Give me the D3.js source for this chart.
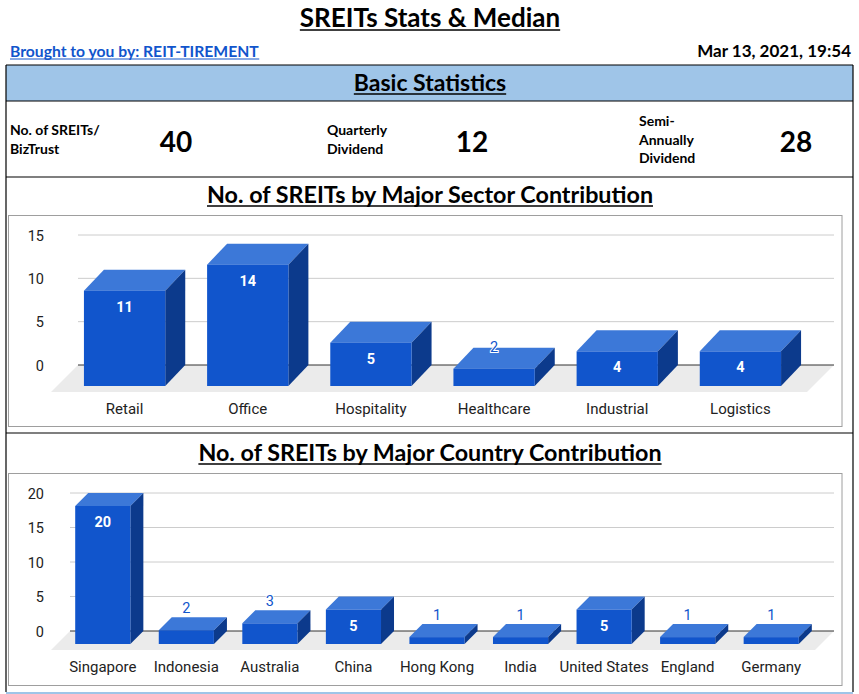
<!DOCTYPE html>
<html lang="en">
<head>
<meta charset="UTF-8">
<title>SREITs Stats & Median</title>
<script src="https://d3js.org/d3.v7.min.js"></script>
<style>
  body { margin: 0; background: #fff; overflow: hidden; }
  svg { display: block; }
</style>
</head>
<body>
<script>
// ---- data ----
const sectors = ["Retail", "Office", "Hospitality", "Healthcare", "Industrial", "Logistics"];
const sectorCounts = [11, 14, 5, 2, 4, 4];
const sectorTicks = [0, 5, 10, 15];

const countries = ["Singapore", "Indonesia", "Australia", "China", "Hong Kong", "India", "United States", "England", "Germany"];
const countryCounts = [20, 2, 3, 5, 1, 1, 5, 1, 1];
const countryTicks = [0, 5, 10, 15, 20];

const statLabels = [["No. of SREITs/", "BizTrust"], ["Quarterly", "Dividend"], ["Semi-", "Annually", "Dividend"]];
const statValues = [40, 12, 28];

const W = 859, H = 694;
const HEAD = "Lato, 'Open Sans', sans-serif";
const CHART = "Roboto, sans-serif";
const blue = "#1155cc", blueTop = "#3c78d8", blueSide = "#0c3a8c";

const svg = d3.select("body").append("svg").attr("width", W).attr("height", H);

// underlined text helper
function uText(x, y, str, size, anchor, color, ulGap) {
  const t = svg.append("text")
    .attr("x", x).attr("y", y)
    .attr("text-anchor", anchor)
    .attr("font-family", HEAD).attr("font-weight", "bold")
    .attr("font-size", size).attr("fill", color)
    .text(str);
  if (ulGap != null) {
    const b = t.node().getBBox();
    svg.append("line")
      .attr("x1", b.x).attr("x2", b.x + b.width)
      .attr("y1", y + ulGap).attr("y2", y + ulGap)
      .attr("stroke", color).attr("stroke-width", Math.max(1.2, size / 16));
  }
  return t;
}

// ---- page header ----
uText(430, 27, "SREITs Stats & Median", 26, "middle", "#000", 3);
uText(10, 57, "Brought to you by: REIT-TIREMENT", 15.7, "start", blue, 2);
uText(851, 57, "Mar 13, 2021, 19:54", 17, "end", "#000", null);

// ---- boxes ----
svg.append("rect").attr("x", 6).attr("y", 65).attr("width", 847).attr("height", 36).attr("fill", "#9fc5e8");
svg.append("rect").attr("x", 6).attr("y", 692).attr("width", 847).attr("height", 2).attr("fill", "#9fc5e8");
[65, 101, 177, 433].forEach(y => {
  svg.append("line").attr("x1", 6).attr("x2", 853).attr("y1", y).attr("y2", y)
    .attr("stroke", "#000").attr("stroke-width", 1.2);
});
[6, 853].forEach(x => {
  svg.append("line").attr("x1", x).attr("x2", x).attr("y1", 65).attr("y2", 692)
    .attr("stroke", "#000").attr("stroke-width", 1.2);
});

uText(430, 91, "Basic Statistics", 23, "middle", "#000", 3);

// ---- basic stats row ----
const statLabelX = [10, 327, 639];
const statValueX = [176, 472, 796];
statLabels.forEach((lines, i) => {
  const y0 = lines.length === 3 ? 126 : 135;
  lines.forEach((s, j) => {
    svg.append("text")
      .attr("x", statLabelX[i]).attr("y", y0 + j * 18.5)
      .attr("font-family", HEAD).attr("font-weight", "bold").attr("font-size", 14)
      .attr("fill", "#000").text(s);
  });
  svg.append("text")
    .attr("x", statValueX[i]).attr("y", 152)
    .attr("text-anchor", "middle")
    .attr("font-family", HEAD).attr("font-weight", "bold").attr("font-size", 28)
    .attr("fill", "#000").text(statValues[i]);
});

// ---- 3D column chart ----
function chart3d(cfg) {
  const g = svg.append("g");
  g.append("rect")
    .attr("x", 8.5).attr("y", cfg.frameTop + 0.5)
    .attr("width", 833.5).attr("height", cfg.frameBottom - cfg.frameTop)
    .attr("fill", "#fff").attr("stroke", "#9e9e9e");

  const y = d3.scaleLinear().domain(cfg.domain).range([cfg.zeroY, cfg.topY]);
  const x = d3.scaleBand().domain(cfg.cats).range(cfg.bandRange)
    .paddingInner(0.34).paddingOuter(0.17);
  const dx = cfg.dx, dy = cfg.dy;
  const y0 = y(0);

  // floor
  g.append("polygon")
    .attr("points", [[cfg.gridX0, y0], [cfg.gridX1, y0],
      [cfg.gridX1 - cfg.floorD, y0 + cfg.floorD], [cfg.gridX0 - cfg.floorD, y0 + cfg.floorD]].join(" "))
    .attr("fill", "#ebebeb");

  // gridlines + y labels
  const yAxis = d3.axisLeft(y).tickValues(cfg.ticks).tickSize(0).tickPadding(0);
  const ax = g.append("g").attr("transform", `translate(${cfg.labelX},0)`).call(yAxis);
  ax.select(".domain").remove();
  ax.selectAll("text").attr("font-family", CHART).attr("font-size", 14.5).attr("fill", "#222")
    .attr("dy", "0.35em");

  g.selectAll(".grid").data(cfg.ticks.filter(t => t !== 0)).join("line")
    .attr("x1", cfg.gridX0).attr("x2", cfg.gridX1)
    .attr("y1", d => y(d)).attr("y2", d => y(d))
    .attr("stroke", "#cccccc");
  g.append("line").attr("x1", cfg.gridX0).attr("x2", cfg.gridX1)
    .attr("y1", y0).attr("y2", y0).attr("stroke", "#333");

  const bw = x.bandwidth();
  const data = cfg.cats.map((c, i) => ({ c, v: cfg.vals[i] }));
  const bars = g.selectAll(".bar").data(data).join("g");

  bars.each(function (d) {
    const b = d3.select(this);
    const xl = x(d.c), xr = xl + bw;
    const ft = y(d.v) + dy, fb = y0 + dy;
    b.append("polygon")
      .attr("points", [[xl, ft], [xl + dx, ft - dy], [xr + dx, ft - dy], [xr, ft]].join(" "))
      .attr("fill", blueTop);
    b.append("polygon")
      .attr("points", [[xr, ft], [xr + dx, ft - dy], [xr + dx, fb - dy], [xr, fb]].join(" "))
      .attr("fill", blueSide);
    b.append("rect").attr("x", xl).attr("y", ft).attr("width", bw).attr("height", fb - ft)
      .attr("fill", blue);

    const inside = fb - ft >= 30;
    b.append("text")
      .attr("x", xl + bw / 2)
      .attr("y", inside ? ft + 16 : ft - 22)
      .attr("dy", "0.35em")
      .attr("text-anchor", "middle")
      .attr("font-family", CHART).attr("font-size", 14.5)
      .attr("font-weight", inside ? "bold" : "normal")
      .attr("fill", inside ? "#fff" : blue)
      .attr("stroke", inside ? "none" : "#fff").attr("stroke-width", 2)
      .attr("paint-order", "stroke")
      .text(d.v);
  });

  // category labels
  g.selectAll(".cat").data(cfg.cats).join("text")
    .attr("x", d => x(d) + bw / 2).attr("y", cfg.catY)
    .attr("text-anchor", "middle")
    .attr("font-family", CHART).attr("font-size", 15).attr("fill", "#222")
    .text(d => d);
}

uText(430, 203, "No. of SREITs by Major Sector Contribution", 23.3, "middle", "#000", 3);
chart3d({
  cats: sectors, vals: sectorCounts, ticks: sectorTicks, domain: [0, 15],
  frameTop: 215, frameBottom: 426,
  zeroY: 365, topY: 235,
  gridX0: 78, gridX1: 834, labelX: 44,
  bandRange: [63, 802], dx: 20, dy: 21, floorD: 27,
  catY: 414
});

uText(430, 461, "No. of SREITs by Major Country Contribution", 23.3, "middle", "#000", 3);
chart3d({
  cats: countries, vals: countryCounts, ticks: countryTicks, domain: [0, 20],
  frameTop: 473, frameBottom: 685,
  zeroY: 631, topY: 493,
  gridX0: 70, gridX1: 834, labelX: 44,
  bandRange: [61, 813], dx: 13, dy: 13, floorD: 19,
  catY: 672
});
</script>
</body>
</html>
